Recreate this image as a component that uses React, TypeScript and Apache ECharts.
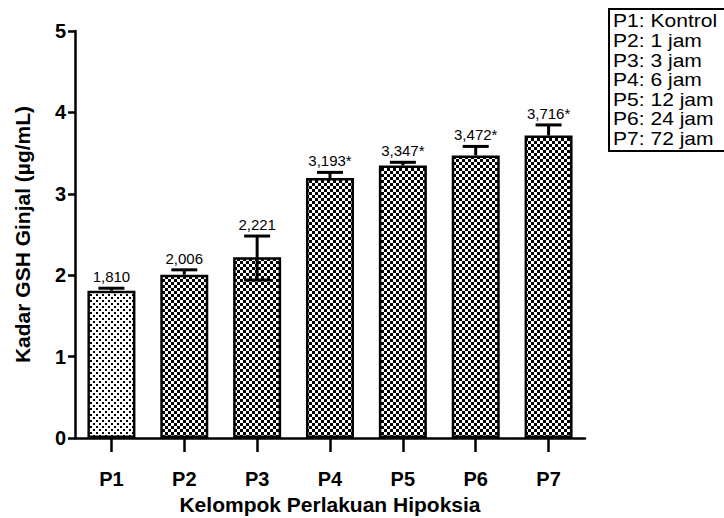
import React, { useEffect, useRef } from "react";
import * as echarts from "echarts";

const categories = ["P1", "P2", "P3", "P4", "P5", "P6", "P7"];
const values = [1.81, 2.006, 2.221, 3.193, 3.347, 3.472, 3.716];
const errorsUp = [0.03, 0.06, 0.26, 0.07, 0.04, 0.11, 0.13];
const errorsDown = [0, 0, 0.28, 0, 0, 0, 0];
const valueLabels = ["1,810", "2,006", "2,221", "3,193*", "3,347*", "3,472*", "3,716*"];
const patternKinds = ["dots", "checker", "checker", "checker", "checker", "checker", "checker"];
const legendLines = [
  "P1: Kontrol",
  "P2: 1 jam",
  "P3: 3 jam",
  "P4: 6 jam",
  "P5: 12 jam",
  "P6: 24 jam",
  "P7: 72 jam",
];
const yMin = 0;
const yMax = 5;
const yInterval = 1;

function makePattern(kind: string): HTMLCanvasElement {
  const c = document.createElement("canvas");
  c.width = 6;
  c.height = 6;
  const ctx = c.getContext("2d")!;
  if (kind === "dots") {
    ctx.fillStyle = "#ffffff";
    ctx.fillRect(0, 0, 6, 6);
    ctx.fillStyle = "#000000";
    ctx.fillRect(0, 0, 2, 2);
    ctx.fillRect(3, 3, 2, 2);
  } else {
    ctx.fillStyle = "#000000";
    ctx.fillRect(0, 0, 6, 6);
    ctx.fillStyle = "#ffffff";
    ctx.fillRect(0, 0, 3, 3);
    ctx.fillRect(3, 3, 3, 3);
  }
  return c;
}

const FONT = "Liberation Sans, Arial, sans-serif";

export default function App() {
  const ref = useRef<HTMLDivElement>(null);
  useEffect(() => {
    if (!ref.current) return;
    const chart = echarts.init(ref.current, null, { renderer: "svg" });
    const patterns: Record<string, HTMLCanvasElement> = {
      dots: makePattern("dots"),
      checker: makePattern("checker"),
    };
    const barData = values.map((v, i) => ({
      value: v,
      itemStyle: {
        color: { image: patterns[patternKinds[i]], repeat: "repeat" } as any,
      },
    }));
    const errData = values.map((v, i) => [i, v, errorsUp[i], errorsDown[i]]);

    const option: any = {
      animation: false,
      backgroundColor: "#ffffff",
      grid: { left: 75, right: 139, top: 31, bottom: 80, containLabel: false, outerBoundsMode: "none" },
      xAxis: {
        type: "category",
        data: categories,
        axisLine: { lineStyle: { color: "#000", width: 2.5 } },
        axisTick: { show: true, length: 14, alignWithLabel: true, lineStyle: { color: "#000", width: 2.5 } },
        axisLabel: { color: "#000", fontFamily: FONT, fontWeight: "bold", fontSize: 20, margin: 31 },
        name: "Kelompok Perlakuan Hipoksia",
        nameLocation: "middle",
        nameGap: 56,
        nameTextStyle: { color: "#000", fontFamily: FONT, fontWeight: "bold", fontSize: 21 },
      },
      yAxis: {
        type: "value",
        min: yMin,
        max: yMax,
        interval: yInterval,
        splitLine: { show: false },
        axisLine: { show: true, lineStyle: { color: "#000", width: 2.5 } },
        axisTick: { show: true, length: 7, lineStyle: { color: "#000", width: 2.5 } },
        axisLabel: { color: "#000", fontFamily: FONT, fontWeight: "bold", fontSize: 20, margin: 9 },
        name: "Kadar GSH Ginjal (µg/mL)",
        nameLocation: "middle",
        nameGap: 42,
        nameRotate: 90,
        nameTextStyle: { color: "#000", fontFamily: FONT, fontWeight: "bold", fontSize: 21 },
      },
      series: [
        {
          type: "bar",
          data: barData,
          barWidth: 48,
          itemStyle: { borderColor: "#000", borderWidth: 2.5 },
        },
        {
          type: "custom",
          data: errData,
          z: 5,
          renderItem: (params: any, api: any) => {
            const i = api.value(0);
            const v = api.value(1);
            const up = api.value(2);
            const down = api.value(3);
            const base = api.coord([i, v]);
            const top = api.coord([i, v + up]);
            const capHalf = 13;
            const lw = 3;
            const children: any[] = [
              { type: "line", shape: { x1: base[0], y1: base[1], x2: top[0], y2: top[1] }, style: { stroke: "#000", lineWidth: lw } },
              { type: "line", shape: { x1: top[0] - capHalf, y1: top[1], x2: top[0] + capHalf, y2: top[1] }, style: { stroke: "#000", lineWidth: lw } },
            ];
            if (down > 0) {
              const bot = api.coord([i, v - down]);
              children.push(
                { type: "line", shape: { x1: base[0], y1: base[1], x2: bot[0], y2: bot[1] }, style: { stroke: "#000", lineWidth: lw } },
                { type: "line", shape: { x1: bot[0] - capHalf, y1: bot[1], x2: bot[0] + capHalf, y2: bot[1] }, style: { stroke: "#000", lineWidth: lw } }
              );
            }
            children.push({
              type: "text",
              x: top[0],
              y: top[1] - 4,
              style: {
                text: valueLabels[params.dataIndex],
                fill: "#000",
                font: `15px ${FONT}`,
                align: "center",
                verticalAlign: "bottom",
              },
            });
            return { type: "group", children };
          },
        },
      ],
      graphic: [
        {
          type: "rect",
          shape: { x: 609, y: 9, width: 130, height: 142 },
          style: { fill: "#fff", stroke: "#000", lineWidth: 2 },
        },
        ...legendLines.map((t, k) => ({
          type: "text",
          x: 613,
          y: 21 + k * 19.6,
          scaleX: 1.17,
          style: { text: t, fill: "#000", font: `18px ${FONT}`, verticalAlign: "middle" },
        })),
      ],
    };
    chart.setOption(option);
    return () => chart.dispose();
  }, []);
  return (
    <div
      ref={ref}
      style={{ position: "fixed", left: 0, top: 0, width: 724, height: 518 }}
    />
  );
}
